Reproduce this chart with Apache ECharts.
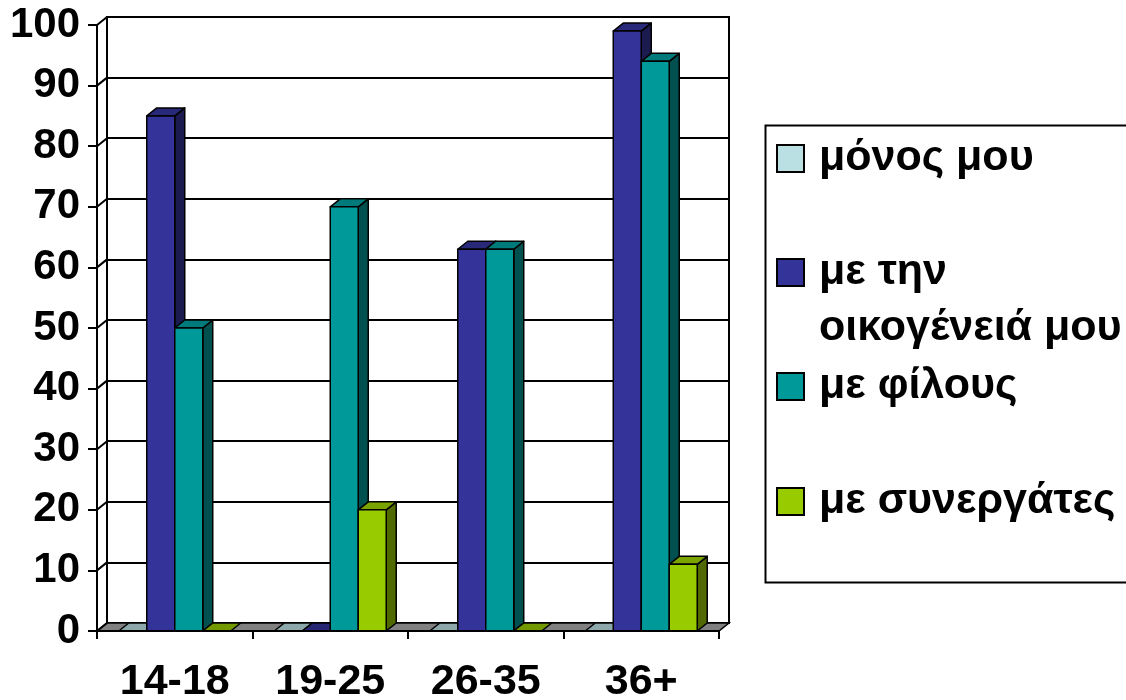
<!DOCTYPE html>
<html>
<head>
<meta charset="utf-8">
<script src="https://cdn.jsdelivr.net/npm/echarts@6/dist/echarts.min.js"></script>
<style>html,body{margin:0;padding:0;background:#fff;}#c{width:1126px;height:700px;}</style>
</head>
<body>
<div id="c"></div>
<script>
const categories = ['14-18', '19-25', '26-35', '36+'];
const seriesNames = ['μόνος μου', 'με την\nοικογένειά μου', 'με φίλους', 'με συνεργάτες'];
const aloneValues = [0, 0, 0, 0];
const familyValues = [85, 0, 63, 99];
const friendsValues = [50, 70, 63, 94];
const colleaguesValues = [0, 20, 0, 11];
const yTicks = [0, 10, 20, 30, 40, 50, 60, 70, 80, 90, 100];
const colors = ['#BBE0E3', '#333399', '#009999', '#99CC00'];

const FONT = '"Liberation Sans", Arial, sans-serif';
const DX = 10, DY = -8;

function shade(hex, f) {
  const n = parseInt(hex.slice(1), 16);
  const r = Math.round(((n >> 16) & 255) * f), g = Math.round(((n >> 8) & 255) * f), b = Math.round((n & 255) * f);
  return 'rgb(' + r + ',' + g + ',' + b + ')';
}

function barRenderer(sIdx) {
  return function (params, api) {
    const cat = api.value(0), v = api.value(1);
    const base = api.coord([cat, 0]);
    const top = api.coord([cat, v]);
    const band = api.size([1, 0])[0];
    const w = band * 0.18;
    const x0 = base[0] - 2 * w + sIdx * w;
    const col = colors[sIdx];
    const stroke = { stroke: '#000', lineWidth: 1.5, lineJoin: 'round' };
    const children = [];
    const h = base[1] - top[1];
    if (h > 0.5) {
      children.push({
        type: 'polygon',
        shape: { points: [[x0 + w, top[1]], [x0 + w + DX, top[1] + DY], [x0 + w + DX, base[1] + DY], [x0 + w, base[1]]] },
        style: Object.assign({ fill: shade(col, 0.52) }, stroke)
      });
    }
    children.push({
      type: 'polygon',
      shape: { points: [[x0, top[1]], [x0 + DX, top[1] + DY], [x0 + w + DX, top[1] + DY], [x0 + w, top[1]]] },
      style: Object.assign({ fill: shade(col, h > 0.5 ? 0.8 : 0.75) }, stroke)
    });
    if (h > 0.5) {
      children.push({
        type: 'rect',
        shape: { x: x0, y: top[1], width: w, height: h },
        style: Object.assign({ fill: col }, stroke)
      });
    }
    return { type: 'group', children: children };
  };
}

const valueSets = [aloneValues, familyValues, friendsValues, colleaguesValues];

const barSeries = valueSets.map(function (vals, i) {
  return {
    type: 'custom',
    name: seriesNames[i],
    xAxisIndex: 0,
    yAxisIndex: 0,
    z: 3,
    itemStyle: { color: colors[i] },
    renderItem: barRenderer(i),
    data: vals.map(function (v, k) { return [k, v]; })
  };
});

const floorSeries = {
  type: 'custom',
  xAxisIndex: 0,
  yAxisIndex: 0,
  z: 1,
  silent: true,
  renderItem: function (params, api) {
    const cs = params.coordSys;
    const yb = cs.y + cs.height;
    return {
      type: 'polygon',
      shape: { points: [[cs.x, yb], [cs.x + cs.width, yb], [cs.x + cs.width + DX, yb + DY], [cs.x + DX, yb + DY]] },
      style: { fill: '#808080', stroke: '#000', lineWidth: 1.5 }
    };
  },
  data: [[0, 0]]
};

const wallSeries = {
  type: 'custom',
  xAxisIndex: 0,
  yAxisIndex: 0,
  z: 2,
  silent: true,
  renderItem: function (params, api) {
    const cs = params.coordSys;
    const p = api.coord([0, api.value(0)]);
    return {
      type: 'line',
      shape: { x1: cs.x, y1: p[1], x2: cs.x + DX, y2: p[1] + DY },
      style: { stroke: '#000', lineWidth: 2 }
    };
  },
  data: yTicks.map(function (t) { return [t]; })
};

function legendFor(i, top, formatter) {
  const lg = {
    data: [seriesNames[i]],
    left: 776,
    top: top,
    padding: 0,
    icon: 'rect',
    itemWidth: 27,
    itemHeight: 27,
    selectedMode: false,
    itemStyle: { borderColor: '#000', borderWidth: 2 },
    textStyle: {
      fontFamily: FONT,
      fontWeight: 'bold',
      fontSize: 43,
      color: '#000',
      lineHeight: 56,
      padding: [0, 0, 0, 10]
    }
  };
  if (formatter) lg.formatter = formatter;
  return lg;
}

const chart = echarts.init(document.getElementById('c'), null, { renderer: 'canvas' });
chart.setOption({
  backgroundColor: '#fff',
  animation: false,
  grid: [
    { left: 97, right: 407, top: 25, bottom: 69, containLabel: false, outerBoundsMode: 'none' },
    { left: 107, right: 397, top: 17, bottom: 77, containLabel: false, outerBoundsMode: 'none', show: true, borderColor: '#000', borderWidth: 2, backgroundColor: '#fff' }
  ],
  xAxis: [
    {
      type: 'category', gridIndex: 0, data: categories, z: 5,
      axisLine: { lineStyle: { color: '#000', width: 2 } },
      axisTick: { show: true, length: 8, lineStyle: { color: '#000', width: 2 } },
      axisLabel: { fontFamily: FONT, fontWeight: 'bold', fontSize: 43, color: '#000', margin: 30 },
      splitLine: { show: false }
    },
    {
      type: 'category', gridIndex: 1, data: categories, show: false
    }
  ],
  yAxis: [
    {
      type: 'value', gridIndex: 0, min: 0, max: 100, interval: 10, z: 5,
      axisLine: { show: true, lineStyle: { color: '#000', width: 2 } },
      axisTick: { show: true, length: 9, lineStyle: { color: '#000', width: 2 } },
      axisLabel: { fontFamily: FONT, fontWeight: 'bold', fontSize: 42, color: '#000', margin: 17 },
      splitLine: { show: false }
    },
    {
      type: 'value', gridIndex: 1, min: 0, max: 100, interval: 10,
      axisLine: { show: true, lineStyle: { color: '#000', width: 2 } },
      axisTick: { show: false },
      axisLabel: { show: false },
      splitLine: { show: true, lineStyle: { color: '#000', width: 2 } }
    }
  ],
  legend: [
    legendFor(0, 130.5),
    legendFor(1, 188.5, function (name) { return ' \n' + name; }),
    legendFor(2, 358.5),
    legendFor(3, 473.5)
  ],
  graphic: [
    { type: 'rect', left: 763, top: 123, shape: { width: 420, height: 457 }, style: { fill: 'none', stroke: '#000', lineWidth: 2 } }
  ],
  series: [floorSeries, wallSeries].concat(barSeries)
});
</script>
</body>
</html>
